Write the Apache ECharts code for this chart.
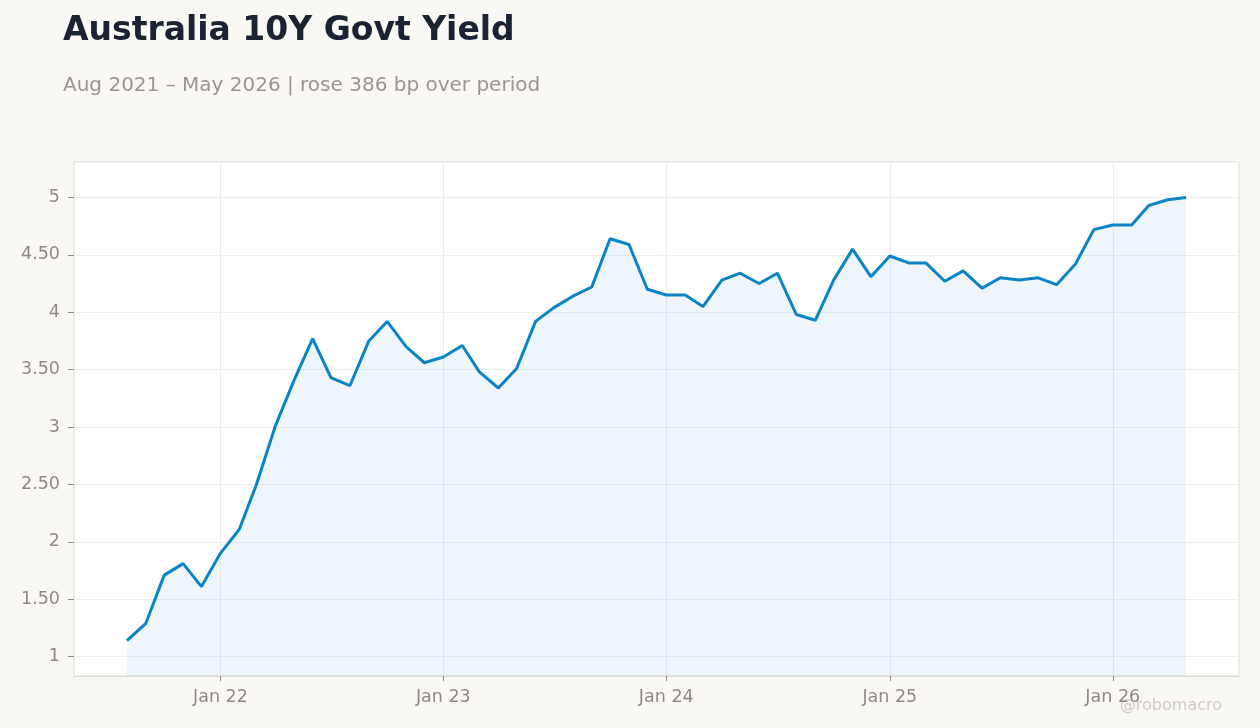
<!DOCTYPE html>
<html>
<head>
<meta charset="utf-8">
<script src="https://cdn.jsdelivr.net/npm/echarts@6/dist/echarts.min.js"></script>
<style>
  html, body { margin: 0; padding: 0; background: #f9f8f5; }
  #chart { width: 1260px; height: 728px; }
</style>
</head>
<body>
<div id="chart"></div>
<script>
// monthly observations, Aug 2021 .. May 2026
var months = [
  '2021-08', '2021-09', '2021-10', '2021-11', '2021-12',
  '2022-01', '2022-02', '2022-03', '2022-04', '2022-05', '2022-06',
  '2022-07', '2022-08', '2022-09', '2022-10', '2022-11', '2022-12',
  '2023-01', '2023-02', '2023-03', '2023-04', '2023-05', '2023-06',
  '2023-07', '2023-08', '2023-09', '2023-10', '2023-11', '2023-12',
  '2024-01', '2024-02', '2024-03', '2024-04', '2024-05', '2024-06',
  '2024-07', '2024-08', '2024-09', '2024-10', '2024-11', '2024-12',
  '2025-01', '2025-02', '2025-03', '2025-04', '2025-05', '2025-06',
  '2025-07', '2025-08', '2025-09', '2025-10', '2025-11', '2025-12',
  '2026-01', '2026-02', '2026-03', '2026-04', '2026-05'
];
var yields = [
  1.14, 1.29, 1.71, 1.81, 1.61,
  1.90, 2.11, 2.50, 3.01, 3.40, 3.77,
  3.43, 3.36, 3.75, 3.92, 3.70, 3.56,
  3.61, 3.71, 3.48, 3.34, 3.51, 3.92,
  4.04, 4.14, 4.22, 4.64, 4.59, 4.20,
  4.15, 4.15, 4.05, 4.28, 4.34, 4.25,
  4.34, 3.98, 3.93, 4.28, 4.55, 4.31,
  4.49, 4.43, 4.43, 4.27, 4.36, 4.21,
  4.30, 4.28, 4.30, 4.24, 4.42, 4.72,
  4.76, 4.76, 4.93, 4.98, 5.00
];

var monthNames = ['Jan', 'Feb', 'Mar', 'Apr', 'May', 'Jun', 'Jul', 'Aug', 'Sep', 'Oct', 'Nov', 'Dec'];
var seriesData = months.map(function (m, i) {
  return [m + '-01', yields[i]];
});

var chart = echarts.init(document.getElementById('chart'));
var font = 'DejaVu Sans';
var labelColor = '#8f8a85';

var option = {
  backgroundColor: '#f9f8f5',
  textStyle: { fontFamily: font },
  animation: false,
  title: [{
    text: 'Australia 10Y Govt Yield',
    left: 58,
    top: 10,
    textStyle: { fontFamily: font, fontSize: 33, fontWeight: 'bold', color: '#1b2333' }
  }, {
    text: 'Aug 2021 – May 2026 | rose 386 bp over period',
    left: 58,
    top: 71,
    textStyle: { fontFamily: font, fontSize: 20, fontWeight: 'normal', color: '#9a9590' }
  }],
  grid: {
    left: 74,
    right: 21,
    top: 162,
    bottom: 52,
    show: true,
    backgroundColor: '#ffffff',
    borderColor: '#ddd8d0',
    borderWidth: 1
  },
  xAxis: {
    type: 'time',
    min: function (v) { return v.min - (v.max - v.min) * 0.05; },
    max: function (v) { return v.max + (v.max - v.min) * 0.05; },
    splitNumber: 5,
    axisLine: { show: true, lineStyle: { color: '#ddd8d0' } },
    axisTick: { show: true, length: 5, lineStyle: { color: '#8f8a85' } },
    splitLine: { show: true, lineStyle: { color: '#ececec' } },
    axisLabel: {
      color: labelColor,
      fontSize: 17.5,
      margin: 12,
      formatter: function (val) {
        var d = new Date(val);
        return monthNames[d.getMonth()] + ' ' + String(d.getFullYear()).slice(2);
      }
    }
  },
  yAxis: {
    type: 'value',
    min: function (v) { return v.min - (v.max - v.min) * 0.08; },
    max: function (v) { return v.max + (v.max - v.min) * 0.08; },
    splitNumber: 9,
    axisLine: { show: false },
    axisTick: { show: true, length: 6, lineStyle: { color: '#8f8a85' } },
    splitLine: { show: true, lineStyle: { color: '#eeeeee' } },
    axisLabel: {
      color: labelColor,
      fontSize: 17.5,
      margin: 14,
      showMinLabel: false,
      showMaxLabel: false,
      formatter: function (v) {
        return Number.isInteger(v) ? String(v) : v.toFixed(2);
      }
    }
  },
  graphic: [{
    type: 'text',
    right: 38,
    bottom: 14,
    style: { text: '@robomacro', fontFamily: font, fontSize: 16, fill: '#cfcbc6' }
  }],
  series: [{
    type: 'line',
    data: seriesData,
    showSymbol: false,
    lineStyle: { color: '#0a84c6', width: 3 },
    itemStyle: { color: '#0a84c6' },
    areaStyle: { color: 'rgba(10,132,198,0.1)' }
  }]
};

chart.setOption(option);
</script>
</body>
</html>
